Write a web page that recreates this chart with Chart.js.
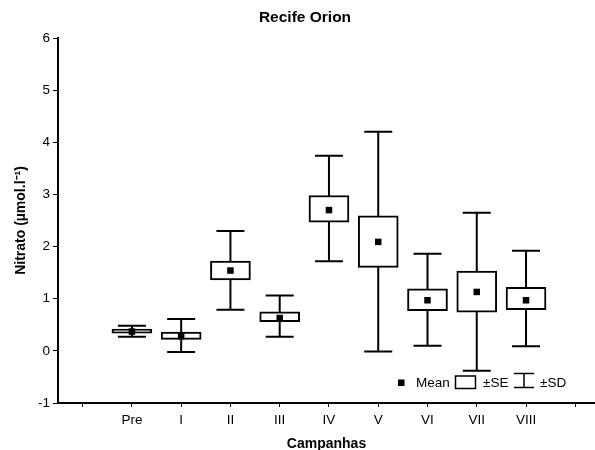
<!DOCTYPE html>
<html>
<head>
<meta charset="utf-8">
<script src="https://cdn.jsdelivr.net/npm/chart.js@4"></script>
<style>
  html, body { margin: 0; padding: 0; background: #fff; }
</style>
</head>
<body>
<canvas id="chart" width="595" height="450"></canvas>
<script>
// Kategorien der x-Achse (leere Plätze links und rechts wie im Original)
const kampagnen = ["", "Pre", "I", "II", "III", "IV", "V", "VI", "VII", "VIII", ""];

// Werte pro Kampagne (Pre ... VIII)
const mittel = [0.37, 0.28, 1.54, 0.63, 2.70, 2.09, 0.97, 1.13, 0.97];
const seUnten = [0.34, 0.22, 1.36, 0.56, 2.47, 1.60, 0.77, 0.74, 0.79];
const seOben = [0.42, 0.36, 1.72, 0.75, 2.98, 2.59, 1.19, 1.53, 1.22];
const sdUnten = [0.27, -0.02, 0.79, 0.27, 1.72, -0.01, 0.10, -0.38, 0.09];
const sdOben = [0.48, 0.61, 2.30, 1.06, 3.74, 4.20, 1.86, 2.65, 1.92];

// Beschriftung der y-Achse
const yTicks = [-1, 0, 1, 2, 3, 4, 5, 6];

Chart.defaults.font.family = "'Liberation Sans', Arial, sans-serif";
Chart.defaults.color = "#000";

// Whisker (±SD) hinter den Boxen zeichnen
const whiskerPlugin = {
  id: "whisker",
  beforeDatasetsDraw(chart) {
    const { ctx, scales: { x, y } } = chart;
    ctx.save();
    ctx.strokeStyle = "#000";
    ctx.lineWidth = 2;
    sdOben.forEach((hi, i) => {
      const px = x.getPixelForValue(i + 1);
      const top = y.getPixelForValue(hi);
      const bot = y.getPixelForValue(sdUnten[i]);
      ctx.beginPath();
      ctx.moveTo(px, top);
      ctx.lineTo(px, bot);
      ctx.moveTo(px - 14, top);
      ctx.lineTo(px + 14, top);
      ctx.moveTo(px - 14, bot);
      ctx.lineTo(px + 14, bot);
      ctx.stroke();
    });
    ctx.restore();
  },
};

// Legende unten rechts im Diagramm
const legendePlugin = {
  id: "legende",
  afterDraw(chart) {
    const { ctx, chartArea } = chart;
    const cy = chartArea.bottom - 20;
    const x0 = chartArea.right - 197;
    ctx.save();
    ctx.fillStyle = "#000";
    ctx.strokeStyle = "#000";
    ctx.font = "13.5px 'Liberation Sans', Arial, sans-serif";
    ctx.textBaseline = "middle";

    // Mean
    ctx.fillRect(x0, cy - 3.5, 6.5, 6.5);
    ctx.fillText("Mean", x0 + 18, cy);

    // ±SE
    ctx.lineWidth = 1.5;
    ctx.strokeRect(x0 + 57.5, cy - 7, 20, 12.5);
    ctx.fillText("±SE", x0 + 85, cy);

    // ±SD
    ctx.beginPath();
    ctx.moveTo(x0 + 126, cy - 9.5);
    ctx.lineTo(x0 + 126, cy + 4.5);
    ctx.moveTo(x0 + 116, cy - 9.5);
    ctx.lineTo(x0 + 136, cy - 9.5);
    ctx.moveTo(x0 + 116, cy + 4.5);
    ctx.lineTo(x0 + 136, cy + 4.5);
    ctx.stroke();
    ctx.fillText("±SD", x0 + 142, cy);
    ctx.restore();
  },
};

const ctx = document.getElementById("chart").getContext("2d");

new Chart(ctx, {
  type: "bar",
  data: {
    datasets: [
      {
        type: "scatter",
        label: "Mean",
        data: mittel.map((v, i) => ({ x: i + 1, y: v })),
        pointStyle: "rect",
        pointRadius: 4.6,
        backgroundColor: "#000",
        borderColor: "#000",
        borderWidth: 0,
        order: 0,
      },
      {
        label: "±SE",
        data: seOben.map((hi, i) => ({ x: i + 1, y: [seUnten[i], hi] })),
        backgroundColor: "#fff",
        borderColor: "#000",
        borderWidth: 2,
        borderSkipped: false,
        barThickness: 40,
        order: 1,
      },
    ],
  },
  options: {
    responsive: false,
    animation: false,
    layout: { autoPadding: false, padding: { left: 15, right: 0, top: 0, bottom: 0 } },
    plugins: {
      legend: { display: false },
      tooltip: { enabled: false },
      title: {
        display: true,
        text: "Recife Orion",
        color: "#000",
        font: { size: 15.5, weight: "bold" },
        padding: { top: 8.2, bottom: 11.2 },
      },
    },
    scales: {
      x: {
        type: "linear",
        min: -0.5,
        max: 10.4,
        offset: false,
        afterBuildTicks: (s) => {
          s.ticks = kampagnen.map((_, i) => ({ value: i }));
        },
        afterFit: (s) => {
          s.height = 47;
        },
        ticks: {
          callback: (v) => kampagnen[v] ?? "",
          autoSkip: false,
          maxRotation: 0,
          font: { size: 13.5 },
          padding: 5,
        },
        grid: { drawOnChartArea: false, offset: false, color: "#000", tickLength: 4 },
        border: { color: "#000", width: 2 },
        title: {
          display: true,
          text: "Campanhas",
          font: { size: 14, weight: "bold" },
          padding: { top: 0, bottom: -2.5 },
        },
      },
      y: {
        min: -1,
        max: 6,
        afterBuildTicks: (s) => {
          s.ticks = yTicks.map((v) => ({ value: v }));
        },
        afterFit: (s) => {
          s.width = 43;
        },
        ticks: { font: { size: 13.5 }, padding: 3 },
        grid: { drawOnChartArea: false, color: "#000", tickLength: 5 },
        border: { color: "#000", width: 2 },
        title: {
          display: true,
          text: "Nitrato (µmol.l⁻¹)",
          font: { size: 14, weight: "bold" },
          padding: { top: -2, bottom: 0 },
        },
      },
    },
  },
  plugins: [whiskerPlugin, legendePlugin],
});
</script>
</body>
</html>
